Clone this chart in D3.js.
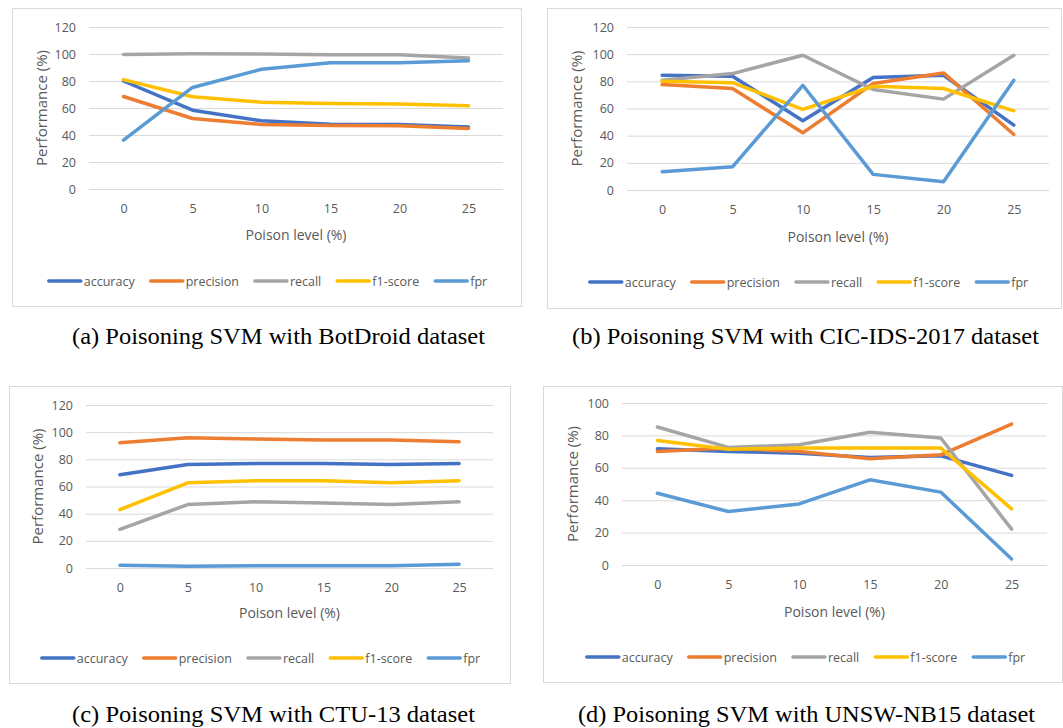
<!DOCTYPE html>
<html>
<head>
<meta charset="utf-8">
<script src="https://cdn.jsdelivr.net/npm/d3@7"></script>
<style>
  body { margin: 0; background: #fff; }
  text { font-family: "Open Sans", sans-serif; }
</style>
</head>
<body>
<svg id="fig" width="1063" height="728"></svg>
<script>
const levels = [0, 5, 10, 15, 20, 25];
const metrics = ['accuracy', 'precision', 'recall', 'f1-score', 'fpr'];
const colors = ['#4472C4', '#ED7D31', '#A5A5A5', '#FFC000', '#5B9BD5'];

// rows follow the metrics order
const botdroid = [
  [80, 58.4, 50.5, 48, 47.8, 46],
  [68.5, 52.2, 47.8, 47, 46.8, 44.8],
  [99.6, 100.2, 100, 99.5, 99.5, 97],
  [81, 68.3, 64.3, 63.3, 63, 61.6],
  [36.2, 75.2, 88.7, 93.6, 93.6, 95]
];
const cicids = [
  [84.5, 83.8, 51, 82.8, 84.5, 47.8],
  [77.6, 74.7, 42.1, 78.4, 86.2, 40.9],
  [80.8, 85.7, 99.2, 74, 66.9, 99.2],
  [80, 79, 59.3, 76.4, 74.7, 58.3],
  [13.5, 17.1, 77.1, 11.5, 6.1, 80.8]
];
const ctu13 = [
  [68.6, 76.2, 77, 77, 76.2, 77],
  [92.2, 95.9, 94.9, 94.2, 94.2, 92.9],
  [28.5, 46.7, 48.7, 47.9, 46.7, 48.7],
  [43, 62.7, 64.2, 64.2, 62.7, 64.2],
  [2, 1.2, 1.7, 1.7, 1.7, 2.7]
];
const unsw = [
  [71.8, 70.1, 69, 66.4, 67.4, 55.3],
  [70.1, 72.2, 70.1, 65.6, 68, 87],
  [85.2, 72.6, 74.2, 81.9, 78.4, 22.1],
  [76.9, 71.5, 72.2, 72.2, 72.2, 34.6],
  [44.3, 33, 37.7, 52.6, 45, 3.7]
];
const captions = [
  '(a) Poisoning SVM with BotDroid dataset',
  '(b) Poisoning SVM with CIC-IDS-2017 dataset',
  '(c) Poisoning SVM with CTU-13 dataset',
  '(d) Poisoning SVM with UNSW-NB15 dataset'
];

const panels = [
  { data: botdroid, yMax: 120, box: [12, 8, 521, 306], x0: 89, x1: 503, y0: 27, y1: 189,
    xTickY: 209, xTitleY: 235, yTitleX: 42, legY: 281, legC: 268,
    cap: { x0: 72, x1: 485, y: 344 } },
  { data: cicids, yMax: 120, box: [547, 8, 1061, 308], x0: 627, x1: 1049, y0: 27, y1: 190,
    xTickY: 210, xTitleY: 237, yTitleX: 577, legY: 282, legC: 809,
    cap: { x0: 572, x1: 1039, y: 344 } },
  { data: ctu13, yMax: 120, box: [9, 386, 510, 683], x0: 86, x1: 493, y0: 405, y1: 568,
    xTickY: 588, xTitleY: 613, yTitleX: 38, legY: 658, legC: 261,
    cap: { x0: 72, x1: 475, y: 722 } },
  { data: unsw, yMax: 100, box: [543, 386, 1062, 682], x0: 622, x1: 1047, y0: 403, y1: 565,
    xTickY: 585, xTitleY: 612, yTitleX: 573, legY: 657, legC: 806,
    cap: { x0: 578, x1: 1035, y: 722 } }
];

const svg = d3.select('#fig');
svg.append('rect').attr('width', 1063).attr('height', 728).attr('fill', '#fff');

const textColor = '#595959';
const gridColor = '#d9d9d9';

const drawPanel = (p, k) => {
  const g = svg.append('g');

  g.append('rect')
    .attr('x', p.box[0] + 0.5).attr('y', p.box[1] + 0.5)
    .attr('width', p.box[2] - p.box[0]).attr('height', p.box[3] - p.box[1])
    .attr('fill', '#fff').attr('stroke', gridColor);

  const xScale = d3.scalePoint().domain(levels).range([p.x0, p.x1]).padding(0.5);
  const yScale = d3.scaleLinear().domain([0, p.yMax]).range([p.y1, p.y0]);

  const yAxisG = g.append('g')
    .attr('transform', `translate(${p.x0},0)`)
    .call(d3.axisLeft(yScale)
      .tickValues(d3.range(0, p.yMax + 1, 20))
      .tickSize(-(p.x1 - p.x0))
      .tickPadding(13));
  yAxisG.select('.domain').remove();
  yAxisG.selectAll('.tick line').attr('stroke', gridColor);
  yAxisG.selectAll('.tick text')
    .attr('fill', textColor).style('font-size', '12.5px');

  const xAxisG = g.append('g')
    .attr('transform', `translate(0,${p.y1})`)
    .call(d3.axisBottom(xScale).tickSize(0).tickPadding(p.xTickY - p.y1 - 4.5));
  xAxisG.select('.domain').remove();
  xAxisG.selectAll('.tick text')
    .attr('fill', textColor).style('font-size', '12.5px');

  g.append('text')
    .attr('x', (p.x0 + p.x1) / 2).attr('y', p.xTitleY)
    .attr('dy', '0.35em')
    .attr('text-anchor', 'middle')
    .attr('fill', textColor)
    .style('font-size', '14px')
    .text('Poison level (%)');

  g.append('text')
    .attr('transform', `translate(${p.yTitleX},${(p.y0 + p.y1) / 2}) rotate(-90)`)
    .attr('dy', '0.35em')
    .attr('text-anchor', 'middle')
    .attr('fill', textColor)
    .style('font-size', '15px')
    .text('Performance (%)');

  const line = d3.line()
    .x((d, i) => xScale(levels[i]))
    .y(d => yScale(d));

  g.selectAll('path.series')
    .data(p.data)
    .enter()
    .append('path')
      .attr('class', 'series')
      .attr('d', line)
      .attr('fill', 'none')
      .attr('stroke', (d, i) => colors[i])
      .attr('stroke-width', 3.5)
      .attr('stroke-linejoin', 'round')
      .attr('stroke-linecap', 'round');

  // legend, laid out from measured text widths and centred
  const leg = g.append('g');
  const items = leg.selectAll('g')
    .data(metrics)
    .enter()
    .append('g');
  items.append('line')
    .attr('x1', 0).attr('x2', 32)
    .attr('y1', p.legY).attr('y2', p.legY)
    .attr('stroke', (d, i) => colors[i])
    .attr('stroke-width', 3.5)
    .attr('stroke-linecap', 'round');
  items.append('text')
    .attr('x', 35).attr('y', p.legY + 4.5)
    .attr('fill', textColor)
    .style('font-size', '12.5px')
    .text(d => d);
  let cx = 0;
  const offsets = [];
  items.each(function () {
    const w = d3.select(this).select('text').node().getComputedTextLength();
    offsets.push(cx);
    cx += 35 + w + 16;
  });
  const total = cx - 16;
  const start = p.legC - total / 2;
  items.attr('transform', (d, i) => `translate(${start + offsets[i]},0)`);

  svg.append('text')
    .attr('x', p.cap.x0).attr('y', p.cap.y)
    .attr('textLength', p.cap.x1 - p.cap.x0)
    .attr('lengthAdjust', 'spacingAndGlyphs')
    .attr('fill', '#000')
    .style('font-family', '"Liberation Serif", "Times New Roman", serif')
    .style('font-size', '24px')
    .text(captions[k]);
};

panels.forEach(drawPanel);
</script>
</body>
</html>
